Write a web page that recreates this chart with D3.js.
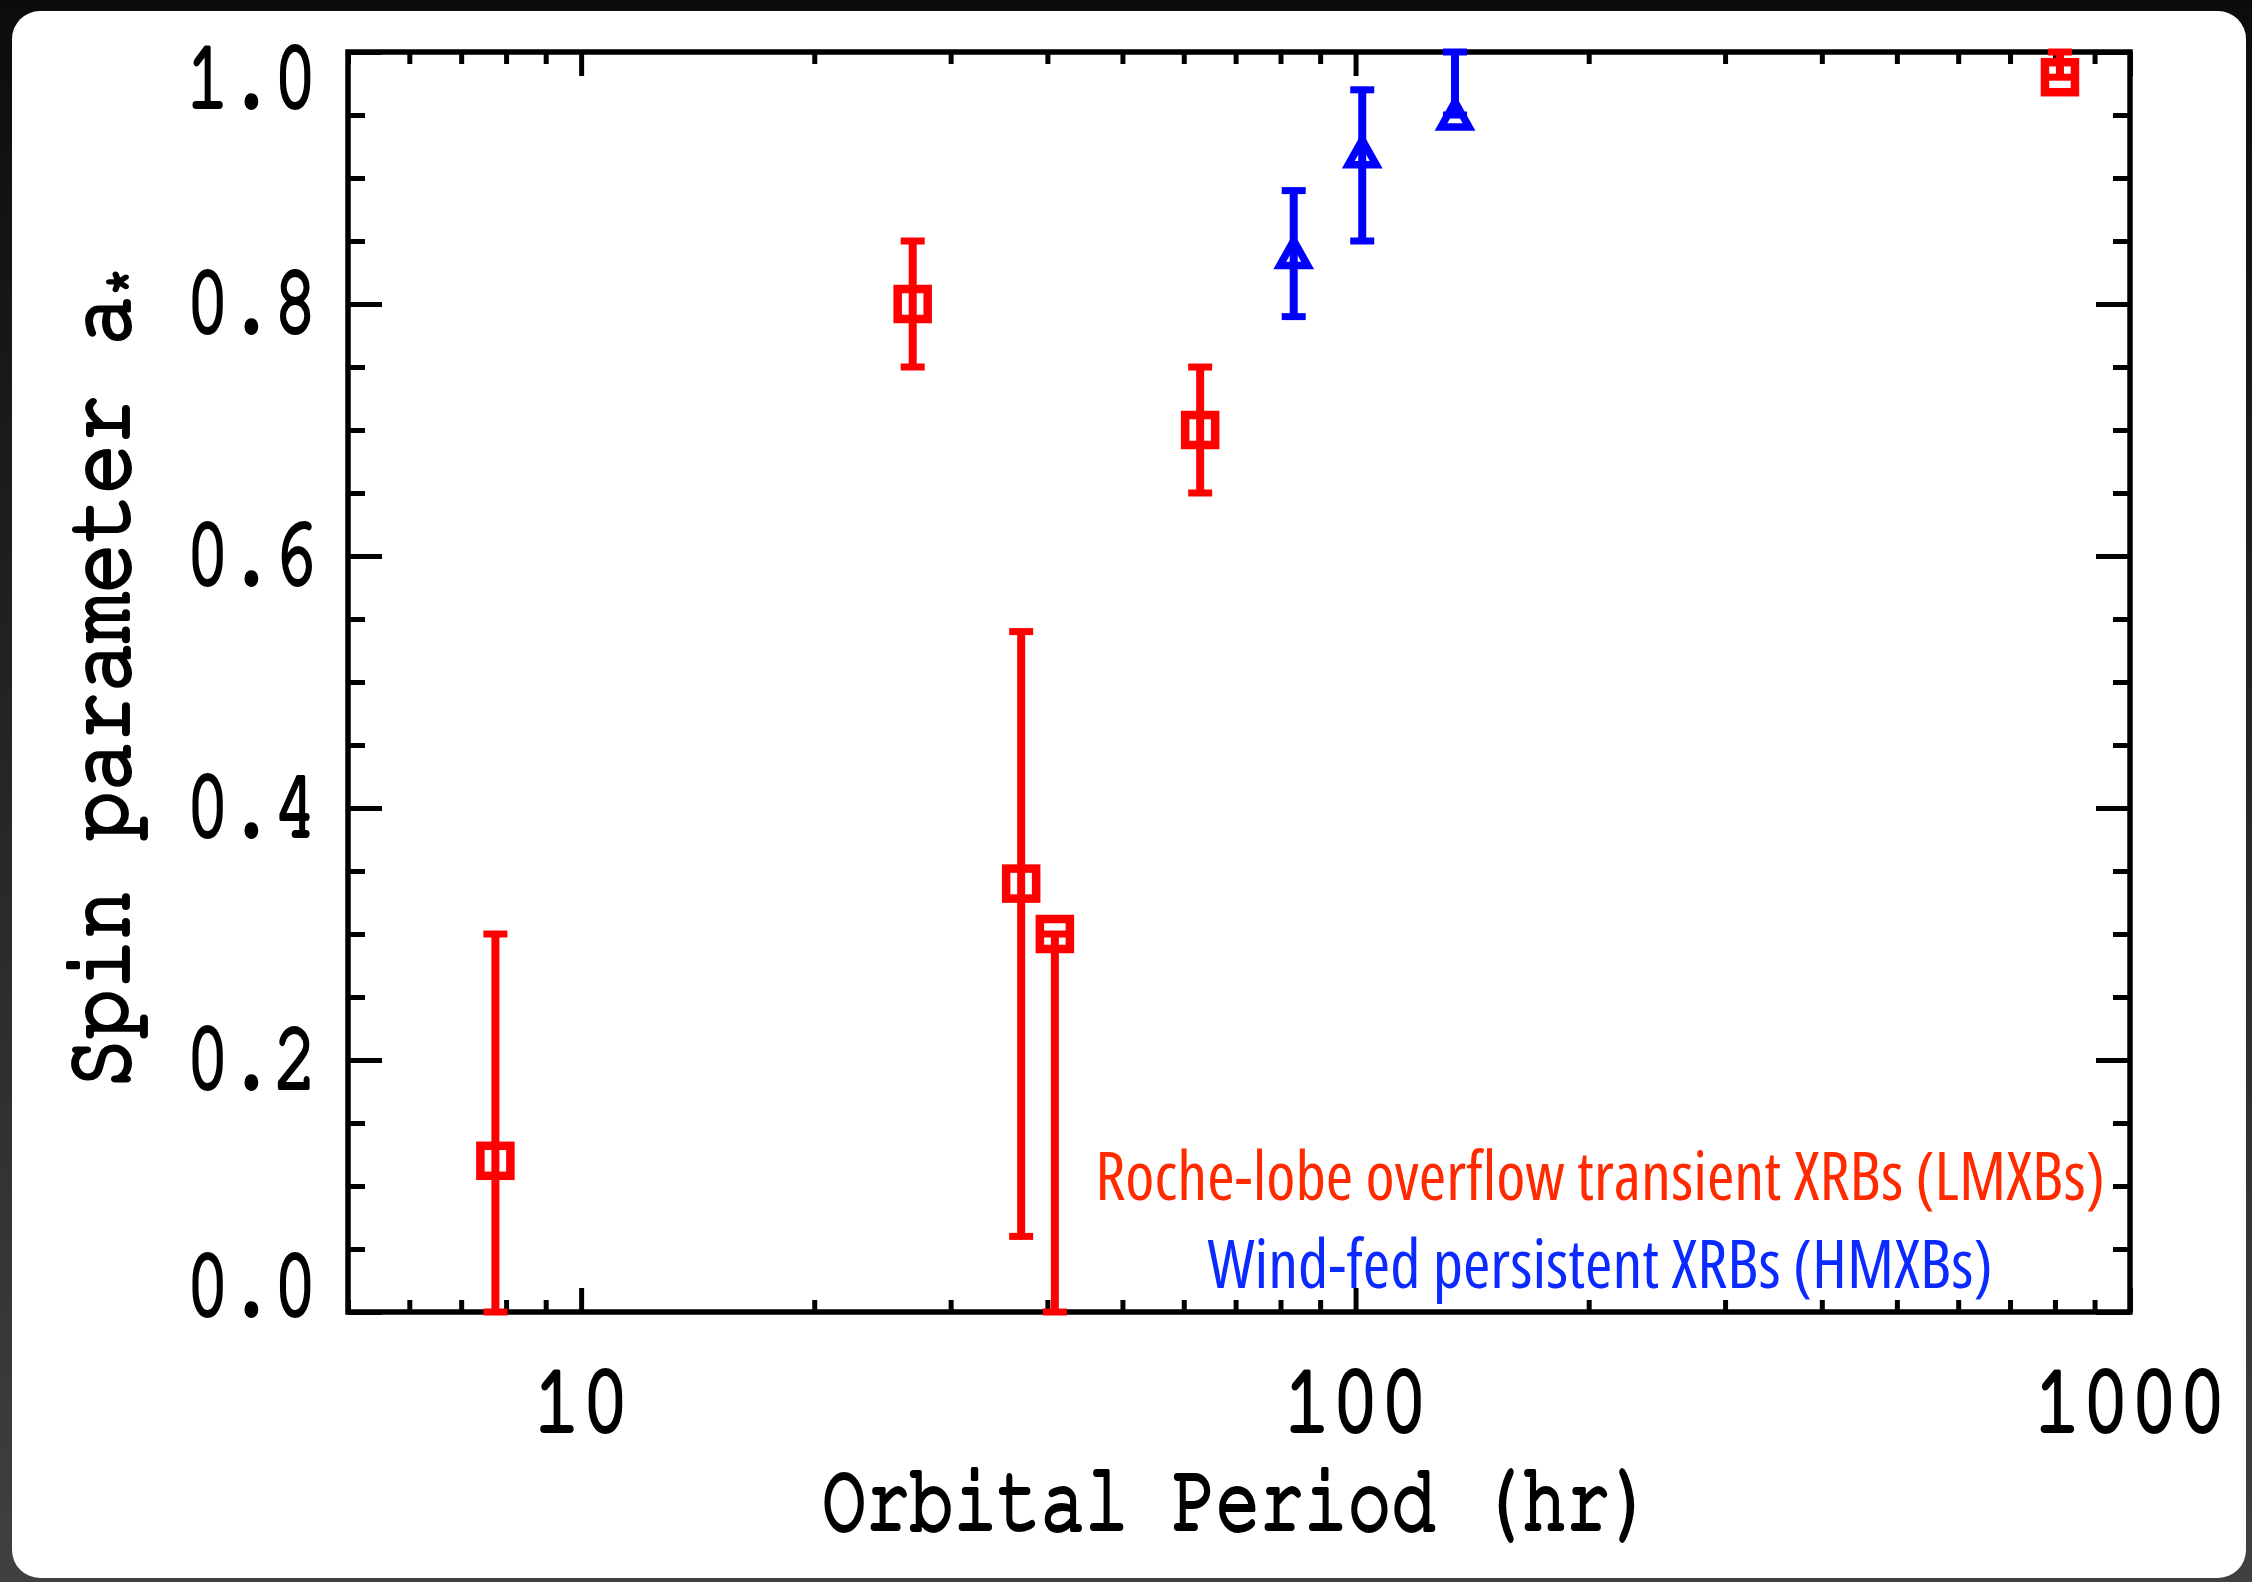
<!DOCTYPE html>
<html>
<head>
<meta charset="utf-8">
<script src="https://cdn.jsdelivr.net/npm/d3@7"></script>
<style>
  html, body { margin: 0; padding: 0; background: #111; }
  svg { display: block; }
</style>
</head>
<body>
<svg id="chart"></svg>
<script>
// Roche-lobe overflow transient XRBs (LMXBs)
const lmxbPeriod = [7.75, 26.8, 37.0, 40.9, 63.0, 812];
const lmxbSpin   = [0.12, 0.80, 0.34, 0.30, 0.70, 0.98];
const lmxbLow    = [0.00, 0.75, 0.06, 0.00, 0.65, 0.98];
const lmxbHigh   = [0.30, 0.85, 0.54, 0.30, 0.75, 1.00];

// Wind-fed persistent XRBs (HMXBs)
const hmxbPeriod = [83.2, 102, 134.4];
const hmxbSpin   = [0.84, 0.92, 0.95];
const hmxbLow    = [0.79, 0.85, 0.95];
const hmxbHigh   = [0.89, 0.97, 1.00];

const xMajor = [10, 100, 1000];
const xLabels = ["10", "100", "1000"];
const xMinor = [5, 6, 7, 8, 9, 20, 30, 40, 50, 60, 70, 80, 90, 200, 300, 400, 500, 600, 700, 800, 900];
const yMajor = [0, 0.2, 0.4, 0.6, 0.8, 1.0];
const yLabels = ["0.0", "0.2", "0.4", "0.6", "0.8", "1.0"];
const yMinor = [0.05, 0.1, 0.15, 0.25, 0.3, 0.35, 0.45, 0.5, 0.55, 0.65, 0.7, 0.75, 0.85, 0.9, 0.95];

const legendText = ["Roche-lobe overflow transient XRBs (LMXBs)", "Wind-fed persistent XRBs (HMXBs)"];

const W = 2252, H = 1582;
const margin = { top: 52, right: 122, bottom: 270, left: 348 },
    width = W - margin.left - margin.right,
    height = H - margin.top - margin.bottom;

const RED = "#ff0000", BLUE = "#0000ff";
const hersheyFont = "FreeMono, 'Courier New', monospace";

const root = d3.select("#chart").attr("width", W).attr("height", H);

// photo-like dark frame behind the white card
const defs = root.append("defs");
const grad = defs.append("linearGradient").attr("id", "bg").attr("x1", 0).attr("y1", 0).attr("x2", 0).attr("y2", 1);
grad.append("stop").attr("offset", "0%").attr("stop-color", "#0c0c0c");
grad.append("stop").attr("offset", "100%").attr("stop-color", "#404040");
root.append("rect").attr("width", W).attr("height", H).attr("fill", "url(#bg)");
root.append("rect")
    .attr("x", 12).attr("y", 11)
    .attr("width", 2234).attr("height", 1567)
    .attr("rx", 28)
    .attr("fill", "#fff");

const svg = root.append("g")
    .attr("transform", `translate(${margin.left}, ${margin.top})`);

const x = d3.scaleLog().domain([5, 1000]).range([0, width]);
const y = d3.scaleLinear().domain([0, 1]).range([height, 0]);

// ticks (inward, on all four sides)
function ticks(axis, vals, size, transform) {
    const g = svg.append("g")
        .attr("transform", transform)
        .call(axis.tickValues(vals).tickSize(size).tickSizeOuter(0).tickFormat(""));
    g.select(".domain").remove();
    g.selectAll("line").attr("stroke", "#000").attr("stroke-width", 5);
}
ticks(d3.axisBottom(x), xMajor, -24, `translate(0,${height})`);
ticks(d3.axisBottom(x), xMinor, -12, `translate(0,${height})`);
ticks(d3.axisTop(x), xMajor, -24, "translate(0,0)");
ticks(d3.axisTop(x), xMinor, -12, "translate(0,0)");
ticks(d3.axisLeft(y), yMajor, -34, "translate(0,0)");
ticks(d3.axisLeft(y), yMinor, -17, "translate(0,0)");
ticks(d3.axisRight(y), yMajor, -34, `translate(${width},0)`);
ticks(d3.axisRight(y), yMinor, -17, `translate(${width},0)`);

// frame
svg.append("rect")
    .attr("x", 0).attr("y", 0)
    .attr("width", width).attr("height", height)
    .attr("fill", "none")
    .attr("stroke", "#000")
    .attr("stroke-width", 5.5);

// hershey-ish labels: mono serif, thickened with a stroke
function hershey(sel, size) {
    return sel.attr("font-family", hersheyFont)
        .attr("font-size", size)
        .attr("fill", "#000")
        .attr("stroke", "#000")
        .attr("stroke-width", 4)
        .attr("stroke-linejoin", "round");
}

xMajor.forEach(function (v, i) {
    hershey(svg.append("text"), 96)
        .attr("text-anchor", "middle")
        .attr("transform", `translate(${x(v)},${height + 119}) scale(0.84,1)`)
        .text(xLabels[i]);
});

yMajor.forEach(function (v, i) {
    const by = Math.max(55, Math.min(height + 3, y(v) + 28));
    hershey(svg.append("text"), 96)
        .attr("text-anchor", "end")
        .attr("transform", `translate(-31,${by}) scale(0.76,1)`)
        .text(yLabels[i]);
});

// axis titles
hershey(svg.append("text"), 96)
    .attr("text-anchor", "middle")
    .attr("transform", `translate(890,${height + 217}) scale(0.76,1)`)
    .text("Orbital Period (hr)");

const yt = hershey(svg.append("text"), 96)
    .attr("text-anchor", "middle")
    .attr("transform", `translate(${128 - margin.left},${678 - margin.top}) rotate(-90) scale(0.86,1)`);
yt.append("tspan").text("Spin parameter a");
yt.append("tspan").attr("font-size", 54).attr("dy", 12).text("*");

// error bars + markers
function errorBars(periods, lows, highs, color) {
    const g = svg.append("g");
    periods.forEach(function (p, i) {
        const cx = x(p);
        g.append("line")
            .attr("x1", cx).attr("x2", cx)
            .attr("y1", y(lows[i])).attr("y2", y(highs[i]))
            .attr("stroke", color).attr("stroke-width", 8);
        [lows[i], highs[i]].forEach(function (v) {
            g.append("line")
                .attr("x1", cx - 12).attr("x2", cx + 12)
                .attr("y1", y(v)).attr("y2", y(v))
                .attr("stroke", color).attr("stroke-width", 7);
        });
    });
}

errorBars(lmxbPeriod, lmxbLow, lmxbHigh, RED);
errorBars(hmxbPeriod, hmxbLow, hmxbHigh, BLUE);

svg.append("g").selectAll("rect")
    .data(lmxbPeriod)
    .join("rect")
    .attr("x", (d) => x(d) - 15)
    .attr("y", (d, i) => y(lmxbSpin[i]) - 15)
    .attr("width", 30)
    .attr("height", 30)
    .attr("fill", "none")
    .attr("stroke", RED)
    .attr("stroke-width", 8.5);

svg.append("g").selectAll("path")
    .data(hmxbPeriod)
    .join("path")
    .attr("d", (d, i) => {
        const cx = x(d), cy = y(hmxbSpin[i]);
        return `M${cx - 14},${cy + 12}L${cx},${cy - 13}L${cx + 14},${cy + 12}Z`;
    })
    .attr("fill", "none")
    .attr("stroke", BLUE)
    .attr("stroke-width", 7.5);

// legend, condensed face squeezed to the measured widths
const legendColors = ["#ff2a00", "#0a2aff"];
const legendY = [1200, 1288];
const legendLen = [1010, 785];
legendText.forEach(function (t, i) {
    const txt = root.append("text")
        .attr("text-anchor", "middle")
        .attr("font-family", "'Open Sans', 'Noto Sans', sans-serif")
        .attr("font-stretch", "75%")
        .attr("font-size", 68)
        .attr("fill", legendColors[i])
        .text(t);
    const natural = txt.node().getComputedTextLength();
    txt.attr("transform", `translate(1600,${legendY[i]}) scale(${legendLen[i] / natural},1)`);
});
</script>
</body>
</html>
